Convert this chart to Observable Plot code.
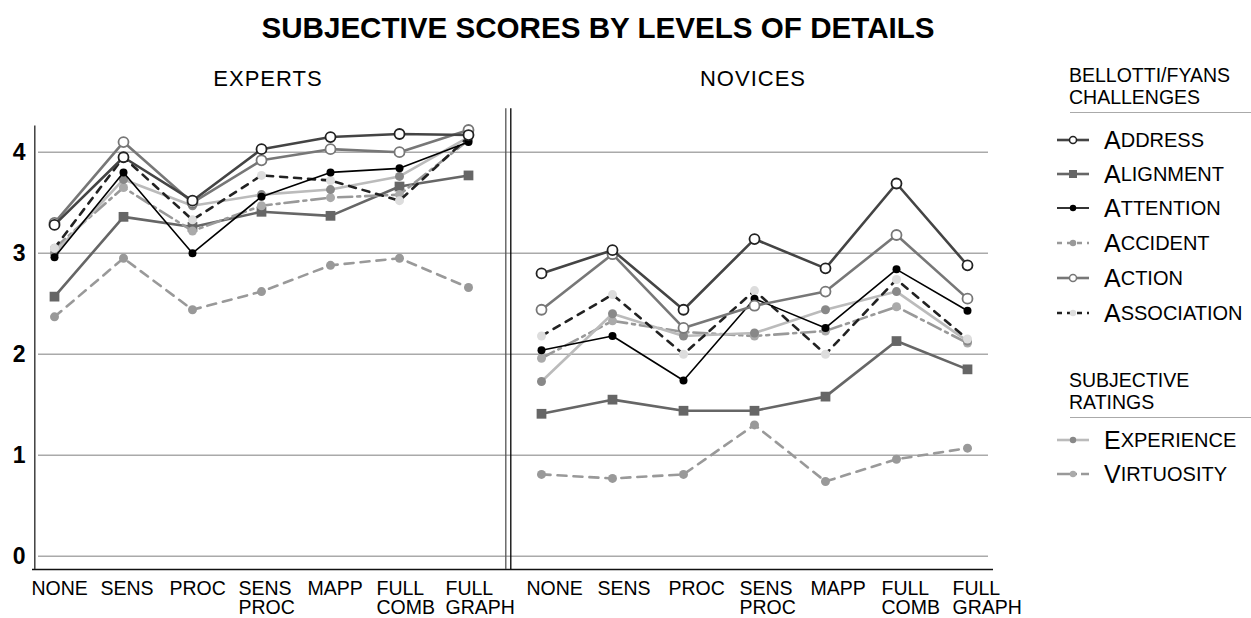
<!DOCTYPE html>
<html><head><meta charset="utf-8">
<script src="https://cdn.jsdelivr.net/npm/d3@7"></script>
<script src="https://cdn.jsdelivr.net/npm/@observablehq/plot@0.6"></script>
<style>
body{margin:0;background:#fff;font-family:"Liberation Sans",Arial,sans-serif;}
#wrap{position:relative;width:1251px;height:618px;overflow:hidden;background:#fff;}
.abs{position:absolute;white-space:nowrap;color:#000;}
#title{left:0;width:1196px;top:13px;text-align:center;font-weight:bold;font-size:29.6px;line-height:30px;}
.sub{top:66px;font-size:22px;letter-spacing:1px;line-height:26px;transform:translateX(-50%);}
.lhead{left:1069px;font-size:19.5px;line-height:22px;}
.lsep{left:1070px;width:181px;height:0;border-top:1.5px solid #aaa;}
.lent{left:1056px;height:34px;display:flex;align-items:center;}
.lent .big{font-size:25px;margin-left:14px;}
.lent .small{font-size:20px;}
svg.plt{position:absolute;top:0;}
</style></head><body><div id="wrap">
<div id="title" class="abs">SUBJECTIVE SCORES BY LEVELS OF DETAILS</div>
</div>
<script>
const levels = ["NONE","SENS","PROC","SENS\nPROC","MAPP","FULL\nCOMB","FULL\nGRAPH"];
const panels = ["EXPERTS","NOVICES"];
const seriesNames = ["Address","Alignment","Attention","Accident","Action","Association","Experience","Virtuosity"];
const yTicks = [0,1,2,3,4];

// Experts
const expertsAddress     = [3.28, 3.95, 3.52, 4.03, 4.15, 4.18, 4.17];
const expertsAlignment   = [2.57, 3.36, 3.26, 3.41, 3.37, 3.66, 3.77];
const expertsAttention   = [2.96, 3.80, 3.00, 3.56, 3.80, 3.84, 4.10];
const expertsAccident    = [2.37, 2.95, 2.44, 2.62, 2.88, 2.95, 2.66];
const expertsAction      = [3.30, 4.10, 3.50, 3.92, 4.03, 4.00, 4.22];
const expertsAssociation = [3.05, 3.95, 3.33, 3.77, 3.72, 3.52, 4.15];
const expertsExperience  = [3.00, 3.73, 3.47, 3.58, 3.63, 3.76, 4.15];
const expertsVirtuosity  = [3.05, 3.65, 3.22, 3.47, 3.55, 3.58, 4.12];

// Novices
const novicesAddress     = [2.80, 3.03, 2.44, 3.14, 2.85, 3.69, 2.88];
const novicesAlignment   = [1.41, 1.55, 1.44, 1.44, 1.58, 2.13, 1.85];
const novicesAttention   = [2.04, 2.18, 1.74, 2.55, 2.26, 2.84, 2.43];
const novicesAccident    = [0.81, 0.77, 0.81, 1.30, 0.74, 0.96, 1.07];
const novicesAction      = [2.44, 2.99, 2.26, 2.48, 2.62, 3.18, 2.55];
const novicesAssociation = [2.18, 2.59, 2.00, 2.63, 2.00, 2.74, 2.15];
const novicesExperience  = [1.73, 2.40, 2.18, 2.21, 2.44, 2.62, 2.13];
const novicesVirtuosity  = [1.96, 2.33, 2.22, 2.18, 2.23, 2.47, 2.11];

const experts = {Address:expertsAddress, Alignment:expertsAlignment, Attention:expertsAttention, Accident:expertsAccident,
  Action:expertsAction, Association:expertsAssociation, Experience:expertsExperience, Virtuosity:expertsVirtuosity};
const novices = {Address:novicesAddress, Alignment:novicesAlignment, Attention:novicesAttention, Accident:novicesAccident,
  Action:novicesAction, Association:novicesAssociation, Experience:novicesExperience, Virtuosity:novicesVirtuosity};

const styles = {
  Address:     {stroke:"#444", sw:2.6, dash:null, symbol:"circle", r:5, fill:"#fff", mstroke:"#222", msw:1.8},
  Alignment:   {stroke:"#666", sw:2.6, dash:null, symbol:"square", r:5.5, fill:"#666", mstroke:"none", msw:0},
  Attention:   {stroke:"#000", sw:1.6, dash:null, symbol:"circle", r:4, fill:"#000", mstroke:"none", msw:0},
  Accident:    {stroke:"#999", sw:2.6, dash:"9,7", symbol:"circle", r:4.5, fill:"#999", mstroke:"none", msw:0},
  Action:      {stroke:"#777", sw:2.6, dash:null, symbol:"circle", r:5, fill:"#fff", mstroke:"#777", msw:1.8},
  Association: {stroke:"#222", sw:2.6, dash:"7,7", symbol:"circle", r:4.5, fill:"#ddd", mstroke:"none", msw:0},
  Experience:  {stroke:"#bbb", sw:2.6, dash:null, symbol:"circle", r:4.5, fill:"#888", mstroke:"none", msw:0},
  Virtuosity:  {stroke:"#999", sw:2.6, dash:"14,5,3,5", symbol:"circle", r:4.5, fill:"#aaa", mstroke:"none", msw:0}
};
const drawOrder = ["Accident","Alignment","Virtuosity","Experience","Association","Attention","Action","Address"];

const Y0 = 555.7, PX = 101;
const baseVal = (Y0 - 569) / PX;

function makePanel(data, cfg) {
  const rows = [];
  for (const s of seriesNames) data[s].forEach((v, i) => rows.push({series: s, level: levels[i], value: v}));
  const marks = [
    Plot.ruleY(yTicks, {stroke: "#aaa", strokeWidth: 1.4, insetLeft: cfg.gridInsetLeft, insetRight: cfg.gridInsetRight}),
    Plot.ruleY([baseVal], {stroke: "#111", strokeWidth: 1.3})
  ];
  if (cfg.leftAxis) {
    marks.push(Plot.ruleX([levels[0]], {dx: -19.7, y1: baseVal, y2: 4.26, stroke: "#333", strokeWidth: 1.4}));
    marks.push(Plot.axisY(yTicks, {anchor: "left", tickSize: 0, tickPadding: 7, fontSize: 23, fontWeight: "bold", tickFormat: d => String(d)}));
  }
  if (cfg.divider) {
    marks.push(Plot.ruleX([levels[6]], {dx: 37.3, y1: baseVal, y2: 4.43, stroke: "#555", strokeWidth: 1.3}));
    marks.push(Plot.ruleX([levels[6]], {dx: 42.3, y1: baseVal, y2: 4.43, stroke: "#000", strokeWidth: 1.3}));
  }
  marks.push(Plot.axisX({anchor: "bottom", tickSize: 0, tickPadding: 0, textAnchor: "start", dx: cfg.labelDx, fontSize: 19.5, lineHeight: 0.97, tickFormat: d => d}));
  for (const s of drawOrder) {
    const st = styles[s];
    const sub = rows.filter(d => d.series === s);
    marks.push(Plot.line(sub, {x: "level", y: "value", stroke: st.stroke, strokeWidth: st.sw, strokeDasharray: st.dash || undefined}));
    marks.push(Plot.dot(sub, {x: "level", y: "value", symbol: st.symbol, r: st.r, fill: st.fill, stroke: st.mstroke, strokeWidth: st.msw}));
  }
  const svg = Plot.plot({
    width: cfg.width, height: 618,
    marginLeft: cfg.marginLeft, marginRight: cfg.marginRight, marginTop: 100, marginBottom: 37,
    style: {background: "transparent", overflow: "visible", fontFamily: "'Liberation Sans', Arial, sans-serif", color: "#000"},
    x: {type: "point", domain: levels, range: cfg.xRange, padding: 0, label: null},
    y: {domain: [0, 4], range: [Y0, Y0 - 4 * PX], label: null, axis: cfg.leftAxis ? undefined : null},
    marks
  });
  svg.classList.add("plt");
  svg.style.left = cfg.left + "px";
  return svg;
}

const wrap = document.getElementById("wrap");
wrap.appendChild(makePanel(experts, {left: 0, width: 515, marginLeft: 32, marginRight: 0, gridInsetLeft: 6, gridInsetRight: 0,
  xRange: [51.7, 470], labelDx: -23, leftAxis: true, divider: true}));
wrap.appendChild(makePanel(novices, {left: 515, width: 485, marginLeft: 0, marginRight: 7, gridInsetLeft: 0, gridInsetRight: 5,
  xRange: [539.3 - 515, 969.3 - 515], labelDx: -15, leftAxis: false, divider: false}));

// subtitles
[[panels[0], 268], [panels[1], 753]].forEach(([t, x]) => {
  const d = document.createElement("div"); d.className = "abs sub"; d.style.left = x + "px"; d.textContent = t; wrap.appendChild(d);
});

// legend
function head(lines, top) {
  lines.forEach((t, i) => { const d = document.createElement("div"); d.className = "abs lhead"; d.style.top = (top + i * 22) + "px"; d.textContent = t; wrap.appendChild(d); });
}
function sep(top) { const d = document.createElement("div"); d.className = "abs lsep"; d.style.top = top + "px"; wrap.appendChild(d); }
function entry(name, cy) {
  const st = styles[name];
  const d = document.createElement("div"); d.className = "abs lent"; d.style.top = (cy - 17) + "px";
  const ns = "http://www.w3.org/2000/svg";
  const s = document.createElementNS(ns, "svg"); s.setAttribute("width", 34); s.setAttribute("height", 14);
  const l = document.createElementNS(ns, "line");
  l.setAttribute("x1", 1); l.setAttribute("x2", 33); l.setAttribute("y1", 7); l.setAttribute("y2", 7);
  l.setAttribute("stroke", st.stroke); l.setAttribute("stroke-width", st.sw);
  if (st.dash) l.setAttribute("stroke-dasharray", name === "Virtuosity" ? "14,4,2,4" : "5,5");
  s.appendChild(l);
  let m;
  if (st.symbol === "square") { m = document.createElementNS(ns, "rect"); m.setAttribute("x", 13); m.setAttribute("y", 3); m.setAttribute("width", 8); m.setAttribute("height", 8); }
  else { m = document.createElementNS(ns, "circle"); m.setAttribute("cx", 17); m.setAttribute("cy", 7); m.setAttribute("r", st.fill === "#fff" ? 3.5 : 3.2); }
  m.setAttribute("fill", st.fill); m.setAttribute("stroke", st.mstroke); m.setAttribute("stroke-width", st.msw ? 1.5 : 0);
  s.appendChild(m);
  d.appendChild(s);
  const b = document.createElement("span"); b.className = "big"; b.textContent = name[0].toUpperCase(); d.appendChild(b);
  const r = document.createElement("span"); r.className = "small"; r.textContent = name.slice(1).toUpperCase(); d.appendChild(r);
  wrap.appendChild(d);
}
head(["BELLOTTI/FYANS", "CHALLENGES"], 64);
sep(112);
[["Address",140],["Alignment",174],["Attention",208],["Accident",243],["Action",278],["Association",313]].forEach(([n, y]) => entry(n, y));
head(["SUBJECTIVE", "RATINGS"], 369);
sep(417);
[["Experience",440],["Virtuosity",474]].forEach(([n, y]) => entry(n, y));
</script>
</body></html>
